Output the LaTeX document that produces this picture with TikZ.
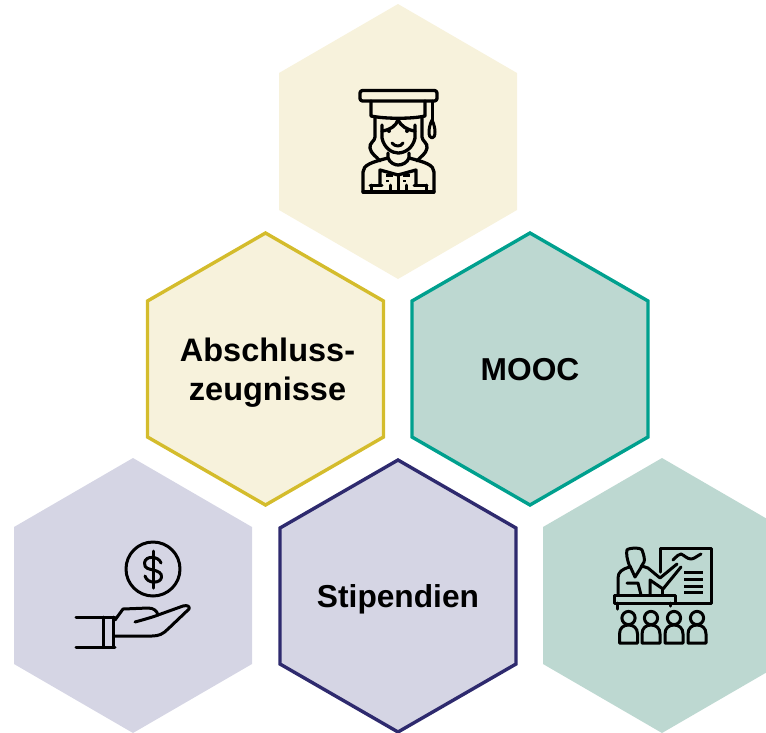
\documentclass[tikz,border=0pt]{standalone}
\usepackage{fontspec}
\setmainfont{Liberation Sans}
\definecolor{creamfill}{HTML}{F7F2DC}
\definecolor{tealfill}{HTML}{BDD8D1}
\definecolor{lilacfill}{HTML}{D5D5E4}
\definecolor{goldline}{HTML}{D4BC2C}
\definecolor{tealline}{HTML}{00A08E}
\definecolor{navyline}{HTML}{2E2A6E}
\tikzset{
  hexline/.style={line width=3.4pt,line join=miter},
  icon/.style={draw=black,line width=3.3pt,line cap=round,line join=round,fill=none},
  iconthin/.style={icon,line width=3pt},
  label/.style={font=\fontsize{31.7}{39}\selectfont\bfseries,align=center,text=black,inner sep=0pt}
}
\newcommand{\hexat}[2]{(#1,#2-137.5) -- (#1+119,#2-68.5) -- (#1+119,#2+68.5) -- (#1,#2+137.5) -- (#1-119,#2+68.5) -- (#1-119,#2-68.5) -- cycle}
\newcommand{\hexin}[2]{(#1,#2-136) -- (#1+118,#2-68) -- (#1+118,#2+68) -- (#1,#2+136) -- (#1-118,#2+68) -- (#1-118,#2-68) -- cycle}
\begin{document}
\begin{tikzpicture}[x=1pt,y=-1pt]
\useasboundingbox (0,0) rectangle (766,732);
\clip (0,0) rectangle (766,732);
% hexagons
\fill[creamfill] \hexat{398}{141.5};
\fill[lilacfill] \hexat{133}{595.5};
\fill[tealfill] \hexat{662}{595.5};
\draw[hexline,draw=goldline,fill=creamfill] \hexin{265.5}{369};
\draw[hexline,draw=tealline,fill=tealfill] \hexin{530}{369};
\draw[hexline,draw=navyline,fill=lilacfill] \hexin{398}{596};
% labels
\node[label,font=\fontsize{32.5}{39}\selectfont\bfseries] (abschluss) at (267.5,373) {Abschluss-\\zeugnisse};
\node[label] (mooc) at (530,370) {MOOC};
\node[label] (stipendien) at (398,599.5) {Stipendien};
% graduate icon
\draw[icon,rounded corners=2.5pt] (360,90.5) rectangle (437,101);
\draw[icon] (371,101) -- (371,116) .. controls (385,119) and (412,119) .. (425,116) -- (425,101);
\draw[iconthin] (432,101) -- (432,122);
\draw[iconthin] (432,120) .. controls (428,128) and (428,138) .. (432,138) .. controls (436,138) and (436,128) .. (432,120);
\draw[icon] (382,125) -- (382,138) .. controls (384,148) and (392,153) .. (398,153) .. controls (405,153) and (413,148) .. (415,138) -- (415,125);
\draw[icon] (382,131) .. controls (390,130) and (396,126) .. (398,120) .. controls (401,126) and (407,130) .. (415,131);
\draw[icon] (375,117) -- (375,137) .. controls (375,141) and (369,143) .. (370,148) .. controls (371,154) and (376,156) .. (380,161);
\draw[icon] (422,117) -- (422,137) .. controls (422,141) and (428,143) .. (427,148) .. controls (426,154) and (421,156) .. (417,161);
\fill (389,131) circle (2);
\fill (407,131) circle (2);
\draw[iconthin] (392,143) .. controls (395,147) and (401,147) .. (403,143);
\draw[icon] (388,153) -- (388,158) .. controls (390,163) and (395,165) .. (398,165) .. controls (402,165) and (407,163) .. (409,158) -- (409,153);
\draw[icon] (363,192) -- (363,172) .. controls (363,165) and (372,162) .. (388,158);
\draw[icon] (434,192) -- (434,172) .. controls (434,165) and (425,162) .. (409,158);
\draw[icon] (363,192) -- (434,192);
\draw[icon] (380,185) -- (380,170) -- (398,175) -- (416,170) -- (416,185);
\draw[iconthin] (398,175) -- (398,192);
\draw[iconthin] (370,185) -- (382,185) (371,185) -- (371,192) (390,185) -- (390,192);
\draw[iconthin] (414,185) -- (427,185) (426,185) -- (426,192) (406,185) -- (406,192);
\draw[line width=2.4pt] (386,175.5) -- (393,175.5) (403,175.5) -- (410,175.5) (386,181) -- (389,181) (403,181) -- (406,181);
% hand and coin icon
\draw[iconthin] (153,569) circle (27);
\draw[iconthin] (161,563) .. controls (159,556) and (145,555) .. (144.5,563) .. controls (144,569) and (150,569) .. (153,570) .. controls (158,571) and (162,573) .. (161.5,577) .. controls (161,584) and (147,584) .. (145,576);
\draw[iconthin] (153,551) -- (153,588);
\draw[iconthin] (76,617) -- (115,617) (76,647) -- (115,647) (103,617) -- (103,647) (113,617) -- (113,647);
\draw[iconthin] (115,620) -- (123,609) -- (148,608) .. controls (154,608) and (157,611) .. (158,615) .. controls (156,616) and (146,619) .. (135,622);
\draw[iconthin] (158,615) -- (183,606) .. controls (187,605) and (190,606) .. (189,609) -- (168,629) .. controls (163,634) and (159,636) .. (152,636) -- (115,636);
% teacher icon
\draw[iconthin] (660,572) -- (660,548) -- (711,548) -- (711,603) -- (675,603);
\draw[iconthin] (673,560) .. controls (677,556) and (679,554) .. (681,554) .. controls (684,555) and (687,559) .. (691,559) .. controls (694,559) and (697,556) .. (701,554);
\draw[iconthin,line cap=butt] (684,572) -- (703,572) (684,579) -- (703,579) (684,586) -- (703,586) (684,592) -- (703,592);
\draw[iconthin] (614,595) rectangle (675,603);
\draw[iconthin] (617,603) -- (617,609) (670,603) -- (670,606);
\draw[iconthin] (630,567) .. controls (627,560) and (626,553) .. (627,550) .. controls (628,548) and (640,547) .. (642,550) .. controls (644,555) and (645,560) .. (644,562) .. controls (642,565) and (643,565) .. (641,567);
\draw[iconthin] (630,566) -- (635,577) -- (642,566);
\draw[iconthin] (630,567) .. controls (622,569) and (618,572) .. (618,578) -- (618,595);
\draw[iconthin] (642,566) -- (648,568) -- (660,578) -- (677,564) (681,567) -- (663,589) -- (650,580) -- (650,595);
\draw[iconthin] (662,589) -- (662,595);
\draw[iconthin] (627,583) -- (638,583) -- (641,595);
\foreach \cx in {628.5,651,674,697}{
  \draw[iconthin] (\cx,618) circle (6.6);
  \draw[iconthin] (\cx-9,643) -- (\cx-9,634) .. controls (\cx-9,628) and (\cx-5,625) .. (\cx,625) .. controls (\cx+5,625) and (\cx+9,628) .. (\cx+9,634) -- (\cx+9,643) -- cycle;
}
\end{tikzpicture}
\end{document}
